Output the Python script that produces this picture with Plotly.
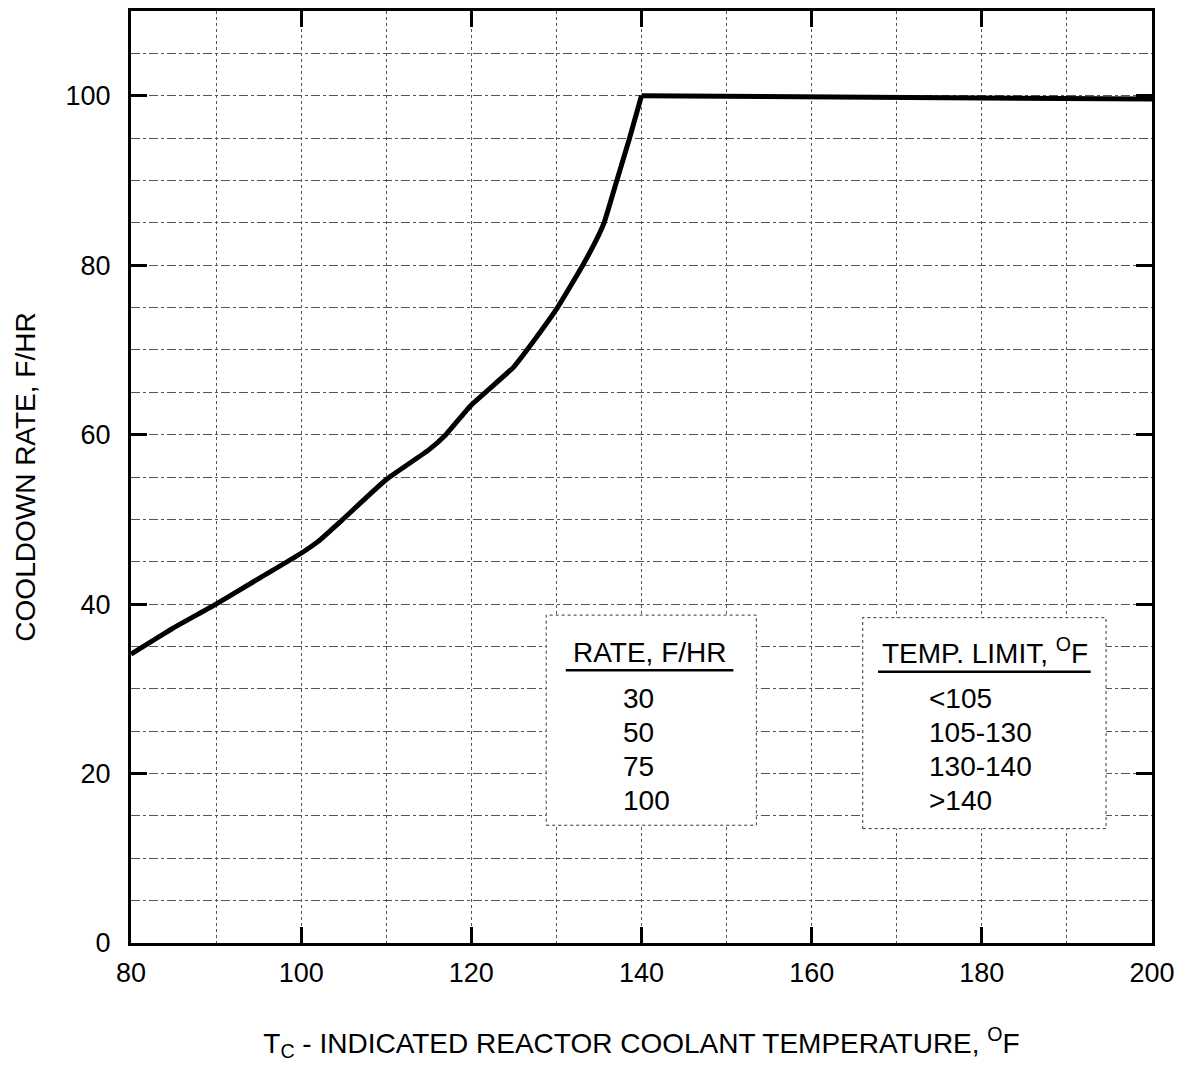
import plotly.graph_objects as go

# Rising part of the curve: coolant temperature (F) vs allowable cooldown rate (F/HR)
temp_rise = [80, 85, 90, 95, 100, 102, 105, 110, 115, 117, 120, 125, 127, 130, 133.1, 134.5, 135.6, 137.1, 138.6, 140.0]
rate_rise = [34.1, 37.2, 40.0, 43.0, 46.0, 47.4, 50.1, 54.7, 58.2, 60.0, 63.5, 68.0, 70.6, 74.8, 80.0, 82.6, 85.0, 90.0, 95.0, 100.0]
# Flat part
temp_flat = [140.0, 170, 200]
rate_flat = [100.0, 99.8, 99.6]

x_ticks = [80, 100, 120, 140, 160, 180, 200]
y_ticks = [0, 20, 40, 60, 80, 100]

rate_header = "RATE, F/HR"
rate_rows = ["30", "50", "75", "100"]
limit_header = "TEMP. LIMIT, <sup>O</sup>F"
limit_rows = ["<105", "105-130", "130-140", ">140"]

FONT = "Liberation Sans, Arial, Helvetica, sans-serif"
FS = 28
GRID = "#555555"

fig = go.Figure()
fig.add_trace(go.Scatter(x=temp_rise, y=rate_rise, mode="lines",
                         line=dict(color="black", width=5, shape="spline", smoothing=0.4),
                         showlegend=False, hoverinfo="skip"))
fig.add_trace(go.Scatter(x=temp_flat, y=rate_flat, mode="lines",
                         line=dict(color="black", width=5),
                         showlegend=False, hoverinfo="skip"))

axis_common = dict(
    showline=True, linecolor="black", linewidth=3, mirror="ticks",
    ticks="inside", ticklen=16, tickwidth=3, tickcolor="black",
    showgrid=True, gridcolor=GRID, gridwidth=1,
    zeroline=False,
    tickfont=dict(family=FONT, size=FS - 1, color="black"),
)

fig.update_xaxes(
    range=[80, 200], tickvals=x_ticks, ticktext=[str(v) for v in x_ticks],
    griddash="dot",
    minor=dict(dtick=10, tick0=80, showgrid=True, gridcolor=GRID,
               gridwidth=1, griddash="dot", ticks=""),
    ticklabelstandoff=4,
    title=dict(text="T<sub>C</sub> - INDICATED REACTOR COOLANT TEMPERATURE, <sup>O</sup>F",
               font=dict(family=FONT, size=FS, color="black"), standoff=46),
    **axis_common,
)
fig.update_yaxes(
    range=[0, 110], tickvals=y_ticks, ticktext=[str(v) for v in y_ticks],
    griddash="dashdot",
    minor=dict(dtick=5, tick0=0, showgrid=True, gridcolor=GRID,
               gridwidth=1, griddash="dashdot", ticks=""),
    ticklabelstandoff=12,
    title=dict(text="COOLDOWN RATE, F/HR",
               font=dict(family=FONT, size=FS, color="black"), standoff=22),
    **axis_common,
)

# Table boxes (white, dotted border) drawn over the grid
boxes = [(128.8, 153.5, 13.9, 38.7), (166.0, 194.6, 13.5, 38.4)]
for x0, x1, y0, y1 in boxes:
    fig.add_shape(type="rect", xref="x", yref="y", x0=x0, x1=x1, y0=y0, y1=y1,
                  fillcolor="white", line=dict(color="#333333", width=1, dash="dot"),
                  layer="above")

# Header underlines
fig.add_shape(type="line", xref="x", yref="y", x0=131.1, x1=150.8, y0=32.2, y1=32.2,
              line=dict(color="black", width=2.5), layer="above")
fig.add_shape(type="line", xref="x", yref="y", x0=167.8, x1=192.8, y0=32.0, y1=32.0,
              line=dict(color="black", width=2.5), layer="above")

tf = dict(family=FONT, size=FS, color="black")
fig.add_annotation(x=140.9, y=34.3, xref="x", yref="y", text=rate_header,
                   showarrow=False, font=tf, xanchor="center", yanchor="middle")
fig.add_annotation(x=180.4, y=34.5, xref="x", yref="y", text=limit_header,
                   showarrow=False, font=tf, xanchor="center", yanchor="middle")

row_y = [28.9, 24.9, 20.8, 16.8]
for ry, r, l in zip(row_y, rate_rows, limit_rows):
    fig.add_annotation(x=137.6, y=ry, xref="x", yref="y", text=r, showarrow=False,
                       font=tf, xanchor="left", yanchor="middle")
    fig.add_annotation(x=173.6, y=ry, xref="x", yref="y", text=l, showarrow=False,
                       font=tf, xanchor="left", yanchor="middle")

fig.update_layout(
    width=1183, height=1071,
    margin=dict(l=131, r=30, t=8, b=128),
    paper_bgcolor="white", plot_bgcolor="white",
    font=dict(family=FONT, size=FS, color="black"),
    showlegend=False,
)

fig.write_html("out.html")
